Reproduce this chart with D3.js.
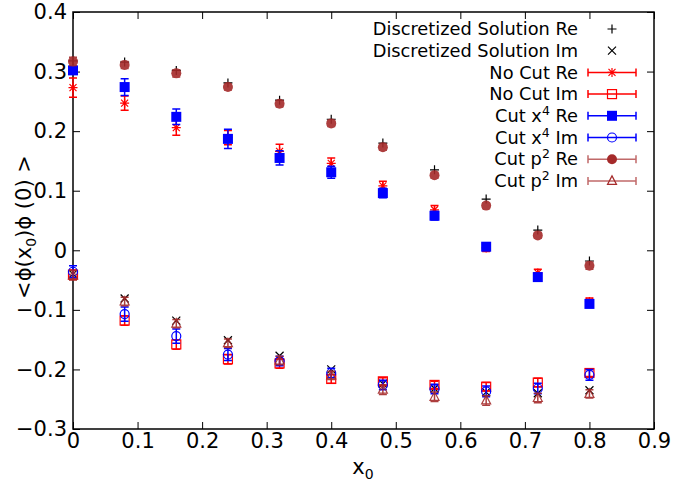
<!DOCTYPE html>
<html>
<head>
<meta charset="utf-8">
<script src="https://cdn.jsdelivr.net/npm/d3@7"></script>
<style>
  html, body { margin: 0; padding: 0; background: #fff; }
  svg { display: block; font-family: "DejaVu Sans", sans-serif; }
</style>
</head>
<body>
<svg id="chart" width="676" height="486"></svg>
<script>
// Correlator <phi(x0) phi(0)> versus separation x0
const xs = [0, 0.08, 0.16, 0.24, 0.32, 0.40, 0.48, 0.56, 0.64, 0.72, 0.80];

const discRe = [0.318, 0.316, 0.302, 0.281, 0.252, 0.220, 0.180, 0.135, 0.086, 0.034, -0.018];
const discIm = [-0.040, -0.081, -0.118, -0.151, -0.177, -0.200, -0.224, -0.232, -0.238, -0.240, -0.235];

const noCutRe    = [0.273, 0.247, 0.206, 0.189, 0.166, 0.146, 0.108, 0.068, 0.004, -0.038, -0.086];
const noCutReErr = [0.016, 0.012, 0.013, 0.012, 0.012, 0.009, 0.008, 0.007, 0.006, 0.006, 0.006];
const noCutIm    = [-0.041, -0.118, -0.158, -0.183, -0.190, -0.216, -0.220, -0.226, -0.229, -0.222, -0.206];
const noCutImErr = [0.008, 0.008, 0.008, 0.008, 0.008, 0.007, 0.006, 0.006, 0.007, 0.007, 0.006];

const x4Re    = [0.302, 0.274, 0.224, 0.187, 0.155, 0.131, 0.096, 0.058, 0.006, -0.045, -0.090];
const x4ReErr = [0.006, 0.014, 0.013, 0.016, 0.012, 0.010, 0.008, 0.007, 0.006, 0.006, 0.006];
const x4Im    = [-0.036, -0.107, -0.144, -0.175, -0.186, -0.206, -0.226, -0.233, -0.237, -0.232, -0.209];
const x4ImErr = [0.010, 0.012, 0.012, 0.010, 0.008, 0.008, 0.008, 0.008, 0.009, 0.009, 0.009];

const p2Re    = [0.317, 0.311, 0.297, 0.274, 0.246, 0.213, 0.173, 0.126, 0.075, 0.025, -0.026];
const p2ReErr = [0.007, 0.006, 0.006, 0.005, 0.005, 0.005, 0.005, 0.005, 0.005, 0.005, 0.006];
const p2Im    = [-0.042, -0.086, -0.123, -0.156, -0.185, -0.210, -0.234, -0.246, -0.252, -0.248, -0.241];
const p2ImErr = [0.008, 0.007, 0.007, 0.007, 0.007, 0.007, 0.008, 0.008, 0.008, 0.008, 0.007];

const xTicks = [0, 0.1, 0.2, 0.3, 0.4, 0.5, 0.6, 0.7, 0.8, 0.9];
const yTicks = [-0.3, -0.2, -0.1, 0, 0.1, 0.2, 0.3, 0.4];

const RED = "#ff0000", BLUE = "#0000ff", BROWN = "#a52a2a";

const svg = d3.select("#chart");
const L = 73, R = 654, T = 12, B = 429;
const x = d3.scaleLinear().domain([0, 0.9]).range([L, R]);
const y = d3.scaleLinear().domain([-0.3, 0.4]).range([B, T]);

// Inward ticks on all four sides, labels on bottom and left only
const tickLen = 7;
const fmt = v => (v === 0 ? "0" : d3.format(".1f")(v));
const axB = svg.append("g").attr("transform", `translate(0,${B})`)
  .call(d3.axisBottom(x).tickValues(xTicks).tickSizeInner(-tickLen).tickSizeOuter(0).tickPadding(4).tickFormat(fmt));
const axT = svg.append("g").attr("transform", `translate(0,${T})`)
  .call(d3.axisTop(x).tickValues(xTicks).tickSizeInner(-tickLen).tickSizeOuter(0).tickFormat(""));
const axL = svg.append("g").attr("transform", `translate(${L},0)`)
  .call(d3.axisLeft(y).tickValues(yTicks).tickSizeInner(-tickLen).tickSizeOuter(0).tickPadding(6).tickFormat(fmt));
const axR = svg.append("g").attr("transform", `translate(${R},0)`)
  .call(d3.axisRight(y).tickValues(yTicks).tickSizeInner(-tickLen).tickSizeOuter(0).tickFormat(""));
[axB, axT, axL, axR].forEach(a => {
  a.select(".domain").remove();
  a.selectAll(".tick line").attr("stroke", "#000").attr("stroke-width", 1);
  a.selectAll("text").attr("font-size", 21).attr("font-family", "DejaVu Sans, sans-serif").attr("fill", "#000");
});
axB.selectAll("text").attr("dy", "0.71em");
svg.append("rect").attr("x", L).attr("y", T).attr("width", R - L).attr("height", B - T)
  .attr("fill", "none").attr("stroke", "#000").attr("stroke-width", 1.5);

// Axis titles
const xl = svg.append("text").attr("x", 363).attr("y", 474).attr("text-anchor", "middle").attr("font-size", 21);
xl.append("tspan").text("x");
xl.append("tspan").attr("font-size", 14).attr("dy", 5).text("0");

const yl = svg.append("text").attr("transform", "translate(31,227) rotate(-90)")
  .attr("text-anchor", "middle").attr("font-size", 21);
yl.append("tspan").text("<ϕ(x");
yl.append("tspan").attr("font-size", 14).attr("dy", 5).text("0");
yl.append("tspan").attr("dy", -5).text(")ϕ (0) >");

// Marker shapes
function drawMarker(g, type, cx, cy, color) {
  const s = 4.5;
  if (type === "plus") {
    g.append("path").attr("d", `M${cx - s},${cy}H${cx + s}M${cx},${cy - s}V${cy + s}`)
      .attr("stroke", color).attr("stroke-width", 1.2).attr("fill", "none");
  } else if (type === "cross") {
    g.append("path").attr("d", `M${cx - 4},${cy - 4}L${cx + 4},${cy + 4}M${cx - 4},${cy + 4}L${cx + 4},${cy - 4}`)
      .attr("stroke", color).attr("stroke-width", 1.2).attr("fill", "none");
  } else if (type === "star") {
    g.append("path").attr("d", `M${cx - s},${cy}H${cx + s}M${cx},${cy - s}V${cy + s}M${cx - s + 1},${cy - s + 1}L${cx + s - 1},${cy + s - 1}M${cx - s + 1},${cy + s - 1}L${cx + s - 1},${cy - s + 1}`)
      .attr("stroke", color).attr("stroke-width", 1.2).attr("fill", "none");
  } else if (type === "square") {
    g.append("rect").attr("x", cx - s).attr("y", cy - s).attr("width", 2 * s).attr("height", 2 * s)
      .attr("fill", "none").attr("stroke", color).attr("stroke-width", 1.2);
  } else if (type === "fsquare") {
    g.append("rect").attr("x", cx - 5).attr("y", cy - 5).attr("width", 10).attr("height", 10).attr("fill", color);
  } else if (type === "circle") {
    g.append("circle").attr("cx", cx).attr("cy", cy).attr("r", 4.5)
      .attr("fill", "none").attr("stroke", color).attr("stroke-width", 1.2);
  } else if (type === "fcircle") {
    g.append("circle").attr("cx", cx).attr("cy", cy).attr("r", 5).attr("fill", color);
  } else if (type === "triangle") {
    g.append("path").attr("d", `M${cx},${cy - 5}L${cx + 4.5},${cy + 3.5}L${cx - 4.5},${cy + 3.5}Z`)
      .attr("fill", "none").attr("stroke", color).attr("stroke-width", 1.2);
  }
}

const plot = svg.append("g");
function series(vals, errs, type, color, opacity) {
  const g = plot.append("g").attr("opacity", opacity);
  vals.forEach((v, i) => {
    const cx = x(xs[i]), cy = y(v);
    if (errs) {
      const y0 = y(v - errs[i]), y1 = y(v + errs[i]);
      g.append("path").attr("d", `M${cx},${y0}V${y1}M${cx - 4},${y0}H${cx + 4}M${cx - 4},${y1}H${cx + 4}`)
        .attr("stroke", color).attr("stroke-width", 1.5).attr("fill", "none");
    }
    drawMarker(g, type, cx, cy, color);
  });
}

series(discRe, null, "plus", "#000", 1);
series(discIm, null, "cross", "#000", 1);
series(noCutRe, noCutReErr, "star", RED, 1);
series(noCutIm, noCutImErr, "square", RED, 1);
series(x4Re, x4ReErr, "fsquare", BLUE, 1);
series(x4Im, x4ImErr, "circle", BLUE, 1);
series(p2Re, p2ReErr, "fcircle", BROWN, 0.9);
series(p2Im, p2ImErr, "triangle", BROWN, 0.9);

// Legend
const legend = [
  { parts: [["Discretized Solution Re"]], type: "plus", color: "#000", err: false },
  { parts: [["Discretized Solution Im"]], type: "cross", color: "#000", err: false },
  { parts: [["No Cut Re"]], type: "star", color: RED, err: true },
  { parts: [["No Cut Im"]], type: "square", color: RED, err: true },
  { parts: [["Cut x"], ["4", true], [" Re"]], type: "fsquare", color: BLUE, err: true },
  { parts: [["Cut x"], ["4", true], [" Im"]], type: "circle", color: BLUE, err: true },
  { parts: [["Cut p"], ["2", true], [" Re"]], type: "fcircle", color: BROWN, err: true },
  { parts: [["Cut p"], ["2", true], [" Im"]], type: "triangle", color: BROWN, err: true }
];
const lg = svg.append("g");
legend.forEach((d, i) => {
  const cy = 29 + i * 21.7;
  const t = lg.append("text").attr("x", 578).attr("y", cy).attr("dy", "0.35em")
    .attr("text-anchor", "end").attr("font-size", 17.8);
  d.parts.forEach(([s, sup]) => {
    if (sup) t.append("tspan").attr("font-size", 12.5).attr("dy", -7).text(s);
    else {
      const ts = t.append("tspan").text(s);
      if (t.selectAll("tspan").size() > 2) ts.attr("dy", 7);
    }
  });
  if (d.err) {
    lg.append("path").attr("d", `M588,${cy}H636M588,${cy - 4}V${cy + 4}M636,${cy - 4}V${cy + 4}`)
      .attr("stroke", d.color).attr("stroke-width", 1.5).attr("fill", "none")
      .attr("opacity", d.color === BROWN ? 0.7 : 1);
  }
  drawMarker(lg, d.type, 612, cy, d.color);
});
</script>
</body>
</html>
